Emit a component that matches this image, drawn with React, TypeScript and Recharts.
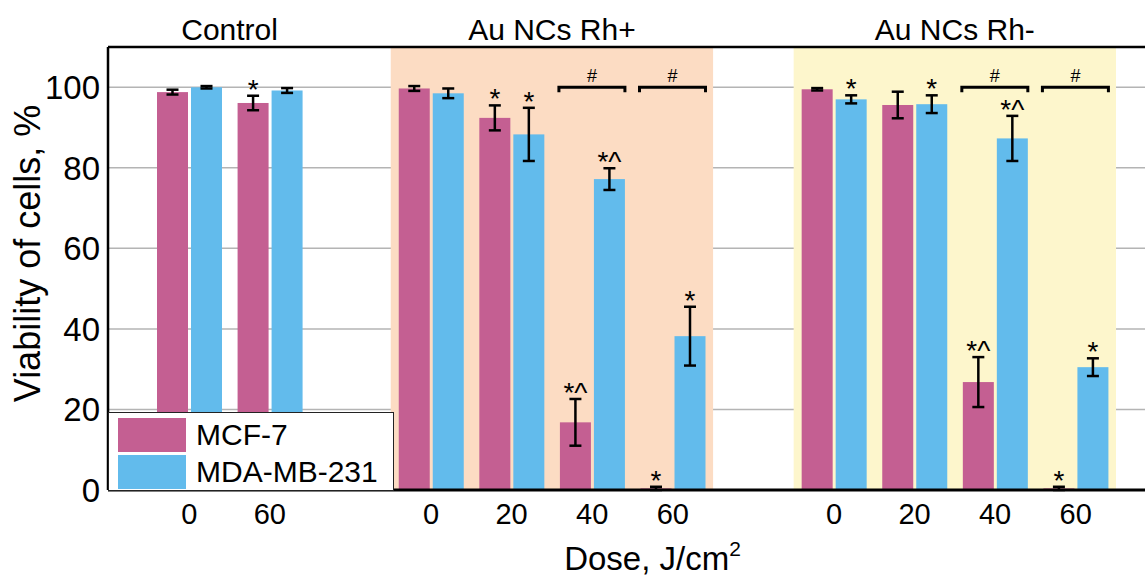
import { BarChart, Bar, XAxis, YAxis, CartesianGrid, ErrorBar, ReferenceArea, ReferenceLine, Legend, Label } from "recharts";

// slots along the dose axis ("g*" are empty spacer slots between groups)
const ids = ["c0", "c60", "g1", "p0", "p20", "p40", "p60", "g2", "m0", "m20", "m40", "m60"];
const doses = ["0", "60", "", "0", "20", "40", "60", "", "0", "20", "40", "60"];

const mcf = [98.8, 96.1, null, 99.7, 92.4, 16.8, 0.4, null, 99.5, 95.6, 26.8, 0.4];
const mcfErr = [0.6, 1.8, null, 0.6, 3.1, 5.8, 0.4, null, 0.3, 3.3, 6.2, 0.4];
const mcfNote = ["", "*", "", "", "*", "*^", "*", "", "", "", "*^", "*"];

const mda = [100, 99.2, null, 98.5, 88.3, 77.2, 38.2, null, 97.0, 95.8, 87.3, 30.5];
const mdaErr = [0.3, 0.6, null, 1.2, 6.6, 2.7, 7.3, null, 1.0, 2.2, 5.6, 2.2];
const mdaNote = ["", "", "", "", "*", "*^", "*", "", "*", "*", "*^", "*"];

// "#" brackets drawn over pairs at the 100% level
const bracket = [null, null, null, null, null, 100, 100, null, null, null, 100, 100];

const yTicks = [0, 20, 40, 60, 80, 100];

const MCF_COLOR = "#C45F92";
const MDA_COLOR = "#62BBEC";
const FONT = "'Liberation Sans', Arial, sans-serif";

const data = ids.map((id, i) => ({
  id,
  dose: doses[i],
  mcf: mcf[i],
  mcfErr: mcfErr[i],
  mcfNote: mcfNote[i],
  mda: mda[i],
  mdaErr: mdaErr[i],
  mdaNote: mdaNote[i],
  bracket: bracket[i],
}));

const makeShape = (key: "mcf" | "mda") => (props: any) => {
  const { x, y, width, height, payload, fill } = props;
  if (payload[key] == null) return <g />;
  const v = payload[key];
  const err = payload[key + "Err"];
  const note = payload[key + "Note"];
  const ppu = v ? height / v : 0;
  const capY = y - err * ppu;
  return (
    <g>
      <rect x={x} y={y} width={width} height={height} fill={fill} />
      {note ? (
        <text x={x + width / 2} y={capY + 3} textAnchor="middle" fontSize={28} fill="#000" fontFamily={FONT}>
          {note}
        </text>
      ) : null}
    </g>
  );
};

const BracketShape = (props: any) => {
  const { x, y, width, payload } = props;
  if (payload.bracket == null) return <g />;
  return (
    <g>
      <path d={`M${x},${y + 5} L${x},${y} L${x + width},${y} L${x + width},${y + 5}`} stroke="#000" strokeWidth={3} fill="none" />
      <text x={x + width / 2} y={y - 5} textAnchor="middle" fontSize={18} fill="#000" fontFamily={FONT}>
        #
      </text>
    </g>
  );
};

const LegendBox = () => (
  <div
    style={{
      boxSizing: "border-box",
      width: 286,
      height: 79,
      background: "#fff",
      border: "1px solid #222",
      padding: "3px 0 0 9px",
      fontFamily: FONT,
      fontSize: 30,
    }}
  >
    {[
      { name: "MCF-7", color: MCF_COLOR },
      { name: "MDA-MB-231", color: MDA_COLOR },
    ].map((s) => (
      <div key={s.name} style={{ display: "flex", alignItems: "center", height: 37 }}>
        <div style={{ width: 68, height: 34, background: s.color, marginRight: 10 }} />
        <span>{s.name}</span>
      </div>
    ))}
  </div>
);

export default function App() {
  return (
    <div style={{ position: "fixed", left: 0, top: 0, width: 1145, height: 579, background: "#fff", overflow: "hidden" }}>
      <BarChart
        width={1145}
        height={579}
        data={data}
        margin={{ top: 47, right: 0, bottom: 0, left: 8 }}
        barSize={31}
        barGap={3}
        style={{ fontFamily: FONT }}
      >
        <ReferenceArea x1="p0" x2="p60" fill="#FCDCC3" fillOpacity={1} stroke="none" label={{ value: "Au NCs Rh+", position: "top", fontSize: 30, fill: "#000", offset: 7 }} />
        <ReferenceArea x1="m0" x2="m60" fill="#FDF6CC" fillOpacity={1} stroke="none" label={{ value: "Au NCs Rh-", position: "top", fontSize: 30, fill: "#000", offset: 7 }} />
        <ReferenceArea x1="c0" x2="c60" fill="none" stroke="none" label={{ value: "Control", position: "top", fontSize: 30, fill: "#000", offset: 7 }} />
        <CartesianGrid vertical={false} stroke="#b4b4b4" strokeWidth={1.5} />
        <XAxis
          dataKey="id"
          tickFormatter={(v: string) => doses[ids.indexOf(v)]}
          interval={0}
          padding={{ left: 41, right: 29 }}
          height={89}
          tickLine={false}
          tickMargin={7}
          axisLine={{ stroke: "#000", strokeWidth: 3 }}
          tick={{ fontSize: 29, fill: "#000" }}
        >
          <Label
            content={(p: any) => {
              const vb = p.viewBox;
              return (
                <text x={vb.x + vb.width / 2 + 26} y={570} textAnchor="middle" fontSize={33} fill="#000" fontFamily={FONT}>
                  Dose, J/cm
                  <tspan fontSize={21} dy={-14}>2</tspan>
                </text>
              );
            }}
          />
        </XAxis>
        <XAxis xAxisId="br" dataKey="id" hide padding={{ left: 41, right: 29 }} />
        <YAxis
          domain={[0, 110]}
          ticks={yTicks}
          width={100}
          tickLine={false}
          axisLine={{ stroke: "#000", strokeWidth: 2.5 }}
          tick={{ fontSize: 33, fill: "#000" }}
        >
          <Label
            content={(p: any) => {
              const vb = p.viewBox;
              const cx = 27;
              const cy = vb.y + vb.height / 2 - 15;
              return (
                <text x={cx} y={cy} transform={`rotate(-90 ${cx} ${cy})`} textAnchor="middle" dominantBaseline="central" fontSize={36} fill="#000" fontFamily={FONT}>
                  Viability of cells, %
                </text>
              );
            }}
          />
        </YAxis>
        <ReferenceLine y={110} stroke="#000" strokeWidth={2.5} />
        <Bar dataKey="mcf" name="MCF-7" fill={MCF_COLOR} shape={makeShape("mcf")} isAnimationActive={false}>
          <ErrorBar dataKey="mcfErr" stroke="#000" strokeWidth={2.5} width={6} />
        </Bar>
        <Bar dataKey="mda" name="MDA-MB-231" fill={MDA_COLOR} shape={makeShape("mda")} isAnimationActive={false}>
          <ErrorBar dataKey="mdaErr" stroke="#000" strokeWidth={2.5} width={6} />
        </Bar>
        <Bar dataKey="bracket" xAxisId="br" barSize={66} fill="none" shape={BracketShape} isAnimationActive={false} />
        <Legend
          layout="horizontal"
          verticalAlign="middle"
          content={() => <LegendBox />}
          wrapperStyle={{ position: "absolute", left: 108, top: 412, width: 286, height: 79 }}
        />
      </BarChart>
    </div>
  );
}
